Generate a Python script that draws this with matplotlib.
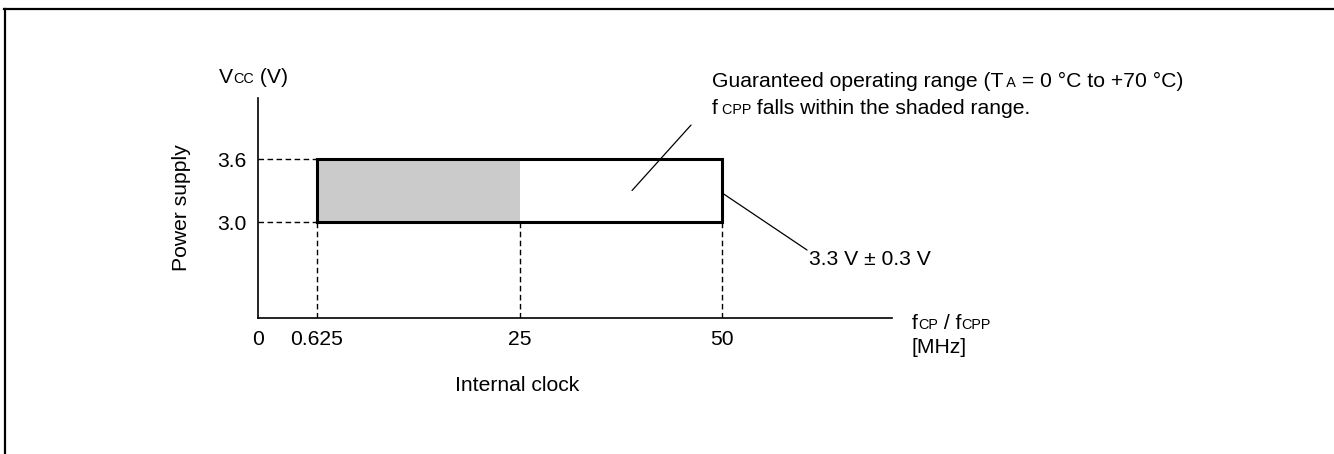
import matplotlib
matplotlib.use('Agg')
import matplotlib.pyplot as plt
import numpy as np
from matplotlib.lines import Line2D
from matplotlib.offsetbox import TextArea, HPacker, AnnotationBbox

plt.rcParams['font.family'] = ['Liberation Sans', 'DejaVu Sans']

# operating range (values from the datasheet figure)
vcc_low, vcc_high = 3.0, 3.6
clk_min, clk_shade, clk_max = 0.625, 25, 50
x_ticks = [0, 0.625, 25, 50]
x_tick_labels = ['0', '0.625', '25', '50']
y_ticks = [3.0, 3.6]
y_tick_labels = ['3.0', '3.6']

FS = 15.2
W, H = 1334, 454

# the clock axis is not drawn to scale: piecewise linear mapping
_clk = [0, 0.625, 25, 50, 100]
_pos = [0, 59, 262, 464, 868]


def fwd(x):
    return np.interp(x, _clk, _pos)


def inv(p):
    return np.interp(p, _pos, _clk)


def rich(ax, parts, xy, align=(0, 0.5)):
    # text with small "subscript" letters sitting on the baseline
    boxes = [TextArea(s, textprops=dict(size=FS * k, color='black')) for s, k in parts]
    pack = HPacker(children=boxes, align='baseline', pad=0, sep=0)
    ab = AnnotationBbox(pack, xy, xycoords='axes fraction', box_alignment=align,
                        frameon=False, pad=0, annotation_clip=False)
    ax.add_artist(ab)


fig = plt.figure(figsize=(W / 100, H / 100), dpi=100)
ax = fig.add_axes([258 / W, 1 - 318 / H, 634 / W, 220 / H])
ax.set_xscale('function', functions=(fwd, inv))
ax.set_xlim(0, 71.1)
ax.set_ylim(2.086, 4.181)

for s in ['top', 'right']:
    ax.spines[s].set_visible(False)
for s in ['left', 'bottom']:
    ax.spines[s].set_linewidth(1.2)

ax.set_xticks(x_ticks, x_tick_labels)
ax.set_yticks(y_ticks, y_tick_labels)
ax.xaxis.set_minor_locator(matplotlib.ticker.NullLocator())
ax.tick_params(axis='both', length=0, labelsize=FS)
ax.tick_params(axis='x', pad=8.5)
ax.tick_params(axis='y', pad=8)

# shaded part and the full range box
ax.fill_between([clk_min, clk_shade], vcc_low, vcc_high, color='#cbcbcb', lw=0)
ax.plot([clk_min, clk_max, clk_max, clk_min, clk_min],
        [vcc_low, vcc_low, vcc_high, vcc_high, vcc_low],
        color='black', lw=2.2, solid_joinstyle='miter', clip_on=False)

dash = (0, (4, 2.5))
ax.hlines([vcc_low, vcc_high], 0, clk_min, colors='black', linestyles=dash, lw=1)
ax.vlines([clk_min, clk_shade, clk_max], ax.get_ylim()[0], vcc_low,
          colors='black', linestyles=dash, lw=1)

# leader lines
ax.annotate('', xy=(38.9, 3.3), xytext=(0.683, 0.877), textcoords='axes fraction',
            arrowprops=dict(arrowstyle='-', lw=0.9, color='black', shrinkA=0, shrinkB=0))
ax.annotate('', xy=(clk_max, 3.28), xytext=(0.866, 0.309), textcoords='axes fraction',
            arrowprops=dict(arrowstyle='-', lw=0.9, color='black', shrinkA=0, shrinkB=0))

# labels
rich(ax, [('V', 1), ('CC', 0.68), (' (V)', 1)], (-0.0615, 1.095))
rich(ax, [('f', 1), ('CP', 0.68), (' / f', 1), ('CPP', 0.68)], (1.0315, -0.023))
rich(ax, [('[MHz]', 1)], (1.0315, -0.136))
rich(ax, [('Guaranteed operating range (T', 1), (' A', 0.68), (' = 0 °C to +70 °C)', 1)],
     (0.716, 1.073))
rich(ax, [('f', 1), (' CPP', 0.68), (' falls within the shaded range.', 1)], (0.716, 0.95))
ax.text(0.869, 0.266, '3.3 V ± 0.3 V', transform=ax.transAxes, size=FS, va='center', ha='left')
ax.text(0.408, -0.305, 'Internal clock', transform=ax.transAxes, size=FS, va='center', ha='center')
ax.text(-0.12, 0.5, 'Power supply', transform=ax.transAxes, size=FS, va='center', ha='center',
        rotation=90)

# frame around the figure (top and left edges only)
fig.add_artist(Line2D([4 / W, 1], [1 - 9 / H, 1 - 9 / H], color='black', lw=1.6))
fig.add_artist(Line2D([5 / W, 5 / W], [0, 1 - 9 / H], color='black', lw=1.6))

fig.savefig('out.png', dpi=100)
